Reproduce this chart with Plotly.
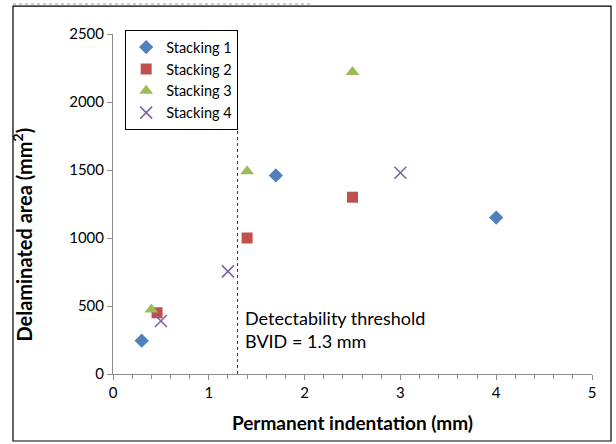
import plotly.graph_objects as go

series_names = ["Stacking 1", "Stacking 2", "Stacking 3", "Stacking 4"]
s1_x = [0.3, 1.7, 4.0]
s1_y = [245, 1460, 1150]
s2_x = [0.46, 1.4, 2.5]
s2_y = [450, 1000, 1300]
s3_x = [0.4, 1.4, 2.5]
s3_y = [475, 1490, 2220]
s4_x = [0.5, 1.2, 3.0]
s4_y = [390, 755, 1480]
threshold_x = 1.3
threshold_top = 2230
x_ticks = [0, 1, 2, 3, 4, 5]
y_ticks = [0, 500, 1000, 1500, 2000, 2500]

FONT = "Lato"
fig = go.Figure()

styles = [
    dict(symbol="diamond", color="#4F81BD", size=11, line=dict(width=0)),
    dict(symbol="square", color="#C0504D", size=11, line=dict(width=0)),
    dict(symbol="triangle-up", color="#9BBB59", size=12, line=dict(width=0)),
    dict(symbol="x-thin-open", color="#8064A2", size=12, line=dict(width=1.6, color="#8064A2")),
]
data = [(s1_x, s1_y), (s2_x, s2_y), (s3_x, s3_y), (s4_x, s4_y)]
for i, (name, (xs, ys), st) in enumerate(zip(series_names, data, styles)):
    fig.add_trace(go.Scatter(x=xs, y=ys, mode="markers", name=name,
                             legendgroup=f"g{i}", marker=st))

fig.add_trace(go.Scatter(x=[threshold_x, threshold_x], y=[0, threshold_top], mode="lines",
                         line=dict(color="#333333", width=1, dash="dot"),
                         showlegend=False, hoverinfo="skip"))

fig.add_annotation(x=threshold_x, y=330, xref="x", yref="y", xanchor="left", yanchor="middle",
                   xshift=5, align="left", showarrow=False,
                   text="Detectability threshold<br>BVID = 1.3 mm",
                   font=dict(family=FONT, size=18, color="#000000"))

# y-axis title
fig.add_annotation(x=-0.19, y=0.41, xref="paper", yref="paper", xanchor="center", yanchor="middle",
                   textangle=-90, showarrow=False,
                   text="<b>Delaminated area (mm<sup>2</sup>)</b>",
                   font=dict(family=FONT, size=20, color="#000000"))

# outer border
fig.add_shape(type="rect", xref="paper", yref="paper",
              x0=-0.2088, x1=1.0397, y0=-0.197, y1=1.082,
              line=dict(color="#000000", width=1.2))
fig.add_shape(type="line", xref="paper", yref="paper",
              x0=-0.2088, x1=0.412, y0=1.088, y1=1.088,
              line=dict(color="#9A9A9A", width=1, dash="dot"))

fig.update_layout(
    width=616, height=444,
    margin=dict(l=113, r=24, t=34, b=70),
    paper_bgcolor="white", plot_bgcolor="white",
    font=dict(family=FONT, size=15, color="#000000"),
    legend=dict(x=0.025, y=1.012, xanchor="left", yanchor="top",
                bordercolor="#000000", borderwidth=1.2, bgcolor="white",
                font=dict(family=FONT, size=14.5, color="#000000"),
                traceorder="grouped", tracegroupgap=0, itemwidth=30),
    xaxis=dict(range=[0, 5], tickvals=x_ticks, showgrid=False, zeroline=False,
               showline=True, linecolor="#8C8C8C", linewidth=1,
               ticks="outside", ticklen=5, tickcolor="#8C8C8C", automargin=False,
               minor=dict(dtick=0.2, ticks="outside", ticklen=4, tickcolor="#8C8C8C", showgrid=False),
               tickfont=dict(family=FONT, size=15),
               title=dict(text="<b>Permanent indentation (mm)</b>",
                          font=dict(family=FONT, size=19), standoff=16)),
    yaxis=dict(range=[0, 2500], tickvals=y_ticks, showgrid=False, zeroline=False,
               showline=True, linecolor="#8C8C8C", linewidth=1,
               ticks="outside", ticklen=5, tickcolor="#8C8C8C", automargin=False,
               tickfont=dict(family=FONT, size=15)),
)

fig.write_html("out.html", config={"displayModeBar": False},
               post_script="document.body.style.margin='0';")
